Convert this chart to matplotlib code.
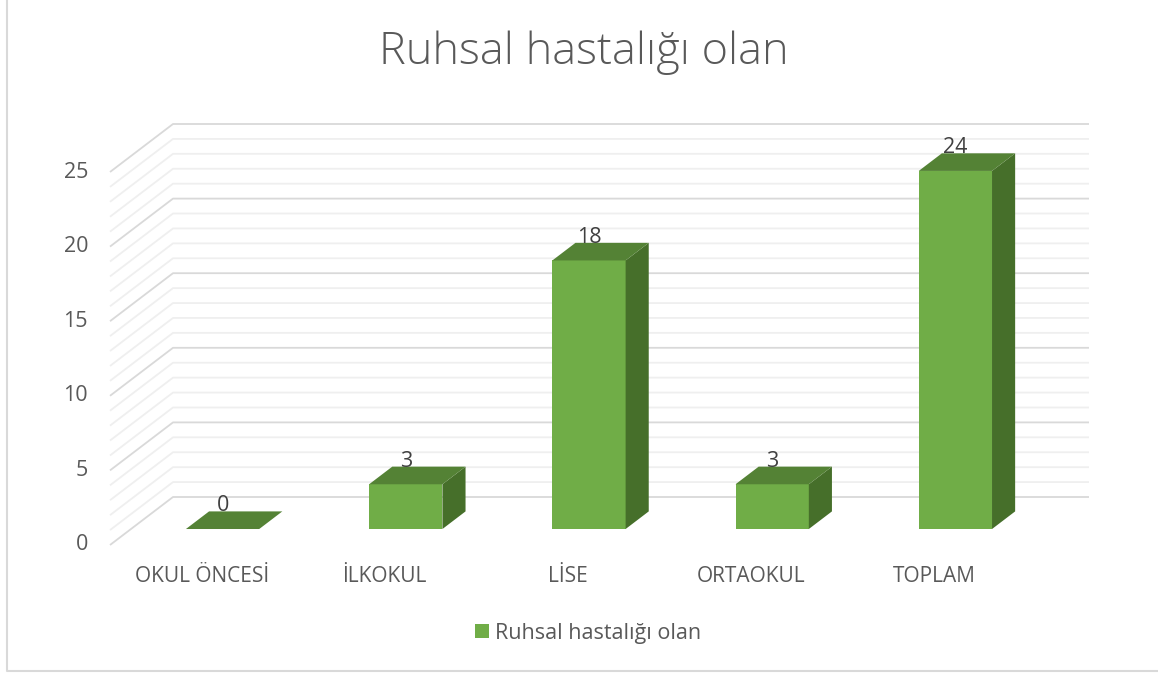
import matplotlib
matplotlib.use("Agg")
import matplotlib.pyplot as plt
from matplotlib.patches import Polygon, Rectangle, Patch
from matplotlib.lines import Line2D

categories = ["OKUL ÖNCESİ", "İLKOKUL", "LİSE", "ORTAOKUL", "TOPLAM"]
values = [0, 3, 18, 3, 24]
yticks = [0, 5, 10, 15, 20, 25]
series_name = "Ruhsal hastalığı olan"
title = "Ruhsal hastalığı olan"

FONT = ["Open Sans", "DejaVu Sans"]
TXT = "#595959"
FRONT = "#70AD47"
TOP = "#548235"
SIDE = "#466F2A"

W, H = 1158, 677
fig = plt.figure(figsize=(W / 100, H / 100), dpi=100)
fig.patch.set_facecolor("white")

# front floor plane: x -0.5..4.5 -> 110..1026 px, y 0..25 -> 545..172 px
ax = fig.add_axes([110 / W, (H - 545) / H, 916 / W, (545 - 172) / H])
ax.set_xlim(-0.5, 4.5)
ax.set_ylim(0, 25)
ax.axis("off")

px_x = 916 / 5
px_y = (545 - 172) / 25
DX = 63 / px_x    # depth offset in data units
DY = 48 / px_y

# wall gridlines (side wall + back wall)
for v in range(0, 26):
    major = v % 5 == 0
    ax.plot([-0.5, -0.5 + DX, 4.5 + DX], [v, v + DY, v + DY],
            color="#D9D9D9" if major else "#EFEFEF", lw=1.3,
            solid_capstyle="butt", zorder=2 if major else 1, clip_on=False)

# bars
f0, f1 = 0.333, 0.70
bw = 0.4
d = f1 - f0
for i, val in enumerate(values):
    x0 = i - bw / 2 + f0 * DX
    y0 = f0 * DY
    if val > 0:
        ax.add_patch(Rectangle((x0, y0), bw, val, facecolor=FRONT,
                               edgecolor="none", zorder=5, clip_on=False))
        ax.add_patch(Polygon([(x0 + bw, y0), (x0 + bw, y0 + val),
                              (x0 + bw + d * DX, y0 + val + d * DY),
                              (x0 + bw + d * DX, y0 + d * DY)],
                             facecolor=SIDE, edgecolor="none", zorder=5, clip_on=False))
    ax.add_patch(Polygon([(x0, y0 + val), (x0 + bw, y0 + val),
                          (x0 + bw + d * DX, y0 + val + d * DY),
                          (x0 + d * DX, y0 + val + d * DY)],
                         facecolor=TOP, edgecolor="none", zorder=5, clip_on=False))
    ax.text(x0 + bw / 2, y0 + val + d * DY, str(val), ha="center", va="baseline",
            fontsize=15.5, color="#404040", family=FONT, zorder=6, clip_on=False)

# value axis labels
for t in yticks:
    ax.text(-0.5 - 22 / px_x, t, str(t), ha="right", va="center",
            fontsize=15.5, color=TXT, family=FONT, clip_on=False)

# category labels
for i, c in enumerate(categories):
    ax.text(i, -32 / px_y, c, ha="center", va="center",
            fontsize=15, color=TXT, family=FONT, clip_on=False)

fig.text(584 / W, 1 - 64 / H, title, ha="center", va="baseline",
         fontsize=32.5, color=TXT, family=FONT, fontweight="light")

leg = fig.legend(handles=[Patch(facecolor=FRONT, edgecolor="none", label=series_name)],
                 loc="center", bbox_to_anchor=(588 / W, 1 - 633 / H),
                 frameon=False, handlelength=0.65, handleheight=0.65,
                 handletextpad=0.25, prop={"family": FONT, "size": 15.5})
for t in leg.get_texts():
    t.set_color(TXT)

# chart area border (left and bottom visible)
fig.add_artist(Line2D([7 / W, 7 / W, 1], [1, 1 - 671 / H, 1 - 671 / H],
                      color="#D9D9D9", lw=1.5, transform=fig.transFigure))

fig.savefig("out.png", dpi=100)
